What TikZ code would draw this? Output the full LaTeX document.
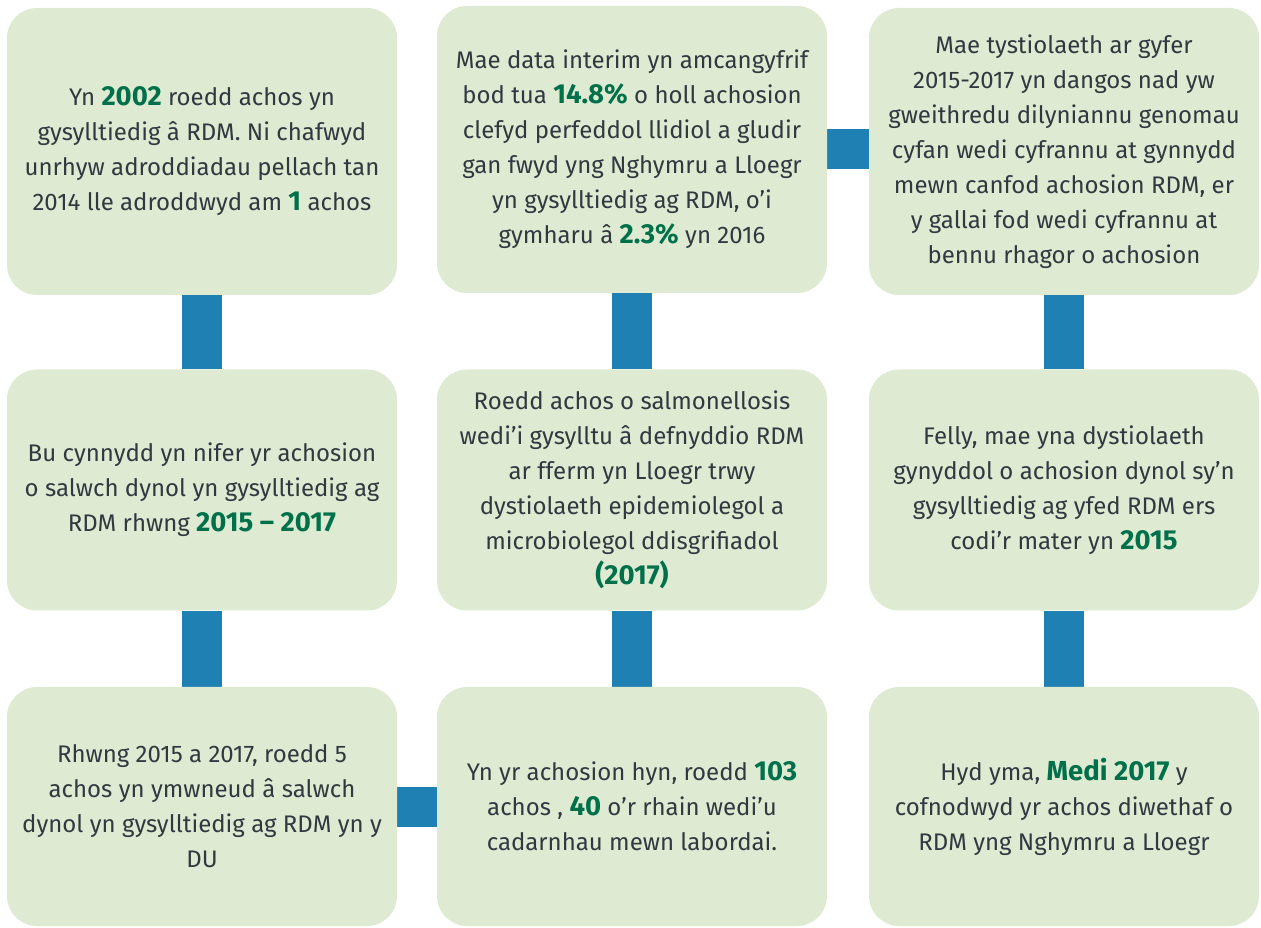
\documentclass[tikz,border=0pt]{standalone}
\usepackage{fontspec}
\setmainfont{Fira Sans}
\usepackage{xcolor}
\usetikzlibrary{backgrounds}
\definecolor{boxgreen}{RGB}{222,235,210}
\definecolor{linkblue}{RGB}{31,128,180}
\definecolor{numgreen}{RGB}{0,112,74}
\definecolor{textgrey}{RGB}{51,56,64}
\newcommand{\numhl}[1]{{\fontsize{27.5}{35}\selectfont\textcolor{numgreen}{\textbf{#1}}}}
\begin{document}
\begin{tikzpicture}[x=1pt,y=1pt,
    factbox/.style={fill=boxgreen, rounded corners=30pt, minimum width=390pt,
      align=center, text=textgrey, inner sep=0pt,
      font=\fontsize{24}{35}\selectfont},
    link/.style={draw=linkblue, line width=40pt}]
    \useasboundingbox (0,0) rectangle (1261,927);
    % Top row
    \node[factbox, minimum height=287pt] (b1) at (202,775.5)
      {Yn \numhl{2002} roedd achos yn\\ gysylltiedig â RDM. Ni chafwyd\\
       unrhyw adroddiadau pellach tan\\ 2014 lle adroddwyd am \numhl{1} achos};
    \node[factbox, minimum height=287pt] (b2) at (632,777.5)
      {Mae data interim yn amcangyfrif\\ bod tua \numhl{14.8\%} o holl achosion\\
       clefyd perfeddol llidiol a gludir\\ gan fwyd yng Nghymru a Lloegr\\
       yn gysylltiedig ag RDM, o’i\\ gymharu â \numhl{2.3\%} yn 2016};
    \node[factbox, minimum height=287pt] (b3) at (1064,775.5)
      {Mae tystiolaeth ar gyfer\\ 2015-2017 yn dangos nad yw\\
       gweithredu dilyniannu genomau\\ cyfan wedi cyfrannu at gynnydd\\
       mewn canfod achosion RDM, er\\ y gallai fod wedi cyfrannu at\\
       bennu rhagor o achosion};
    % Middle row
    \node[factbox, minimum height=241pt] (b4) at (202,437)
      {Bu cynnydd yn nifer yr achosion\\ o salwch dynol yn gysylltiedig ag\\
       RDM rhwng \numhl{2015 – 2017}};
    \node[factbox, minimum height=241pt] (b5) at (632,437)
      {Roedd achos o salmonellosis\\ wedi’i gysylltu â defnyddio RDM\\
       ar fferm yn Lloegr trwy\\ dystiolaeth epidemiolegol a\\
       microbiolegol ddisgrifiadol\\ \numhl{(2017)}};
    \node[factbox, minimum height=241pt] (b6) at (1064,437)
      {Felly, mae yna dystiolaeth\\ gynyddol o achosion dynol sy’n\\
       gysylltiedig ag yfed RDM ers\\ codi’r mater yn \numhl{2015}};
    % Bottom row
    \node[factbox, minimum height=239pt] (b7) at (202,120.5)
      {Rhwng 2015 a 2017, roedd 5\\ achos yn ymwneud â salwch\\
       dynol yn gysylltiedig ag RDM yn y\\ DU};
    \node[factbox, minimum height=239pt] (b8) at (632,120.5)
      {Yn yr achosion hyn, roedd \numhl{103}\\ achos , \numhl{40} o’r rhain wedi’u\\
       cadarnhau mewn labordai.};
    \node[factbox, minimum height=239pt] (b9) at (1064,120.5)
      {Hyd yma, \numhl{Medi 2017} y\\ cofnodwyd yr achos diwethaf o\\
       RDM yng Nghymru a Lloegr};
    % Connectors
    \begin{scope}[on background layer]
      \draw[link] (b1) -- (b4);
      \draw[link] (b4) -- (b7);
      \draw[link] (b7) -- (b8);
      \draw[link] (b8) -- (b5);
      \draw[link] (b5.north) -- (b5.north |- b2.south);
      \draw[link] (b2.east) -- (b2.east -| b3.west);
      \draw[link] (b3) -- (b6);
      \draw[link] (b6) -- (b9);
    \end{scope}
\end{tikzpicture}
\end{document}
